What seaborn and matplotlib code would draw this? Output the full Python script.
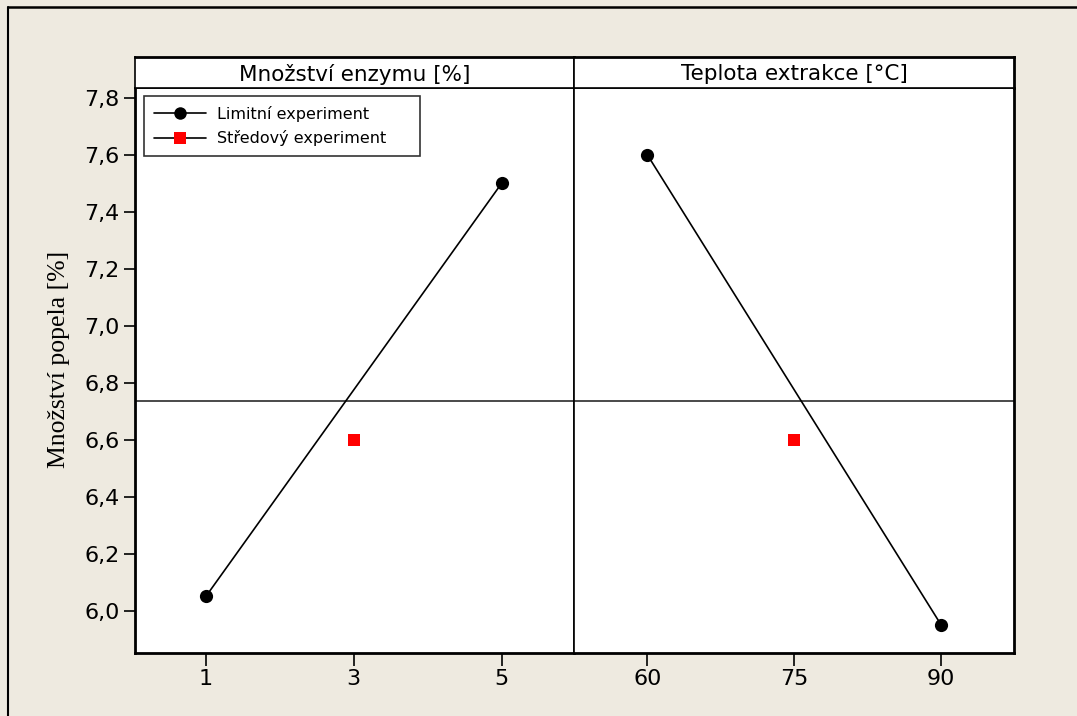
import matplotlib
matplotlib.use("Agg")
import matplotlib.pyplot as plt
import seaborn as sns
import pandas as pd
from matplotlib.lines import Line2D

# ---- data ----
panel_titles = ["Množství enzymu [%]", "Teplota extrakce [°C]"]
enzyme_levels = [1, 5]
enzyme_means = [6.05, 7.5]
enzyme_center_x = [3]
enzyme_center_y = [6.6]
temp_levels = [60, 90]
temp_means = [7.6, 5.95]
temp_center_x = [75]
temp_center_y = [6.6]
grand_mean = 6.735
y_ticks = [6.0, 6.2, 6.4, 6.6, 6.8, 7.0, 7.2, 7.4, 7.6, 7.8]
enzyme_ticks = [1, 3, 5]
temp_ticks = [60, 75, 90]
legend_labels = ["Limitní experiment", "Středový experiment"]
y_label = "Množství popela [%]"

sns.set_theme(style="white")
plt.rcParams['font.family'] = ['DejaVu Sans']
plt.rcParams['text.color'] = 'black'
plt.rcParams['axes.labelcolor'] = 'black'
plt.rcParams['xtick.color'] = 'black'
plt.rcParams['ytick.color'] = 'black'

BG = "#EEEAE0"
W, H = 1077, 716
fig = plt.figure(figsize=(W / 100, H / 100), dpi=100, facecolor=BG)

def rect(x0, y0, x1, y1):
    return [x0 / W, 1 - y1 / H, (x1 - x0) / W, (y1 - y0) / H]

# outer frame (top and left visible)
fig.add_artist(Line2D([7.5 / W, 7.5 / W], [0, 1 - 6.5 / H], color="black", lw=1.5, transform=fig.transFigure))
fig.add_artist(Line2D([7.5 / W, 1], [1 - 6.5 / H, 1 - 6.5 / H], color="black", lw=1.8, transform=fig.transFigure))

ax1 = fig.add_axes(rect(135, 88, 574, 653))
ax2 = fig.add_axes(rect(574, 88, 1014, 653))
h1 = fig.add_axes(rect(135, 57, 574, 88))
h2 = fig.add_axes(rect(574, 57, 1014, 88))

ylim = (5.851, 7.835)

panels = [
    (ax1, enzyme_levels, enzyme_means, enzyme_center_x, enzyme_center_y, enzyme_ticks, (0.04, 5.98)),
    (ax2, temp_levels, temp_means, temp_center_x, temp_center_y, temp_ticks, (52.5, 97.45)),
]

for ax, xs, ys, cx, cy, ticks, xlim in panels:
    ax.set_facecolor("white")
    ax.axhline(grand_mean, color="#4a4a4a", lw=1.4, zorder=1)
    df = pd.DataFrame({"x": xs, "y": ys})
    sns.lineplot(data=df, x="x", y="y", ax=ax, color="black", lw=1.2,
                 marker="o", markersize=9.5, markeredgewidth=0, zorder=3)
    dc = pd.DataFrame({"x": cx, "y": cy})
    sns.scatterplot(data=dc, x="x", y="y", ax=ax, color="#FF0000", marker="s",
                    s=85, linewidth=0, zorder=4)
    ax.set_xlim(*xlim)
    ax.set_ylim(*ylim)
    ax.set_xticks(ticks)
    ax.set_xticklabels([str(t) for t in ticks], fontsize=16)
    ax.set_xlabel("")
    ax.set_ylabel("")
    ax.tick_params(axis="x", direction="out", length=9, width=1.2, color="black", pad=2.5, bottom=True)
    for s in ax.spines.values():
        s.set_color("black")
        s.set_linewidth(1.2)
    ax.spines["bottom"].set_linewidth(2)

ax1.spines["left"].set_linewidth(2)
ax1.set_yticks(y_ticks)
ax1.set_yticklabels([f"{v:.1f}".replace(".", ",") for v in y_ticks], fontsize=16)
ax1.tick_params(axis="y", direction="out", length=8, width=1.2, color="black", pad=3, left=True)
ax2.set_yticks([])
ax2.spines["right"].set_linewidth(2)

ax1.set_ylabel(y_label, family="Liberation Serif", fontsize=18.5, color="black")
ax1.yaxis.set_label_coords(-0.148, 0.52)

for h, title in zip([h1, h2], panel_titles):
    h.set_facecolor("white")
    h.set_xticks([])
    h.set_yticks([])
    for s in h.spines.values():
        s.set_color("black")
        s.set_linewidth(1.2)
    h.spines["top"].set_linewidth(2)
    h.text(0.5, 0.45, title, ha="center", va="center", fontsize=15.5,
           color="black", transform=h.transAxes)
h2.spines["right"].set_linewidth(2)

handles = [
    Line2D([], [], color="black", lw=1.2, marker="o", markersize=9, markerfacecolor="black", markeredgewidth=0),
    Line2D([], [], color="black", lw=1.2, marker="s", markersize=9, markerfacecolor="#FF0000", markeredgewidth=0),
]
leg_x0 = (144 - 135) / 439
leg_w = 276 / 439
leg_top = (653 - 96) / 565
leg = ax1.legend(handles, legend_labels, loc="upper left",
                 bbox_to_anchor=(leg_x0, leg_top - 0.2, leg_w, 0.2), mode="expand",
                 frameon=True, fancybox=False, fontsize=11.5, handlelength=3.3,
                 borderaxespad=0.0, labelspacing=0.55, handletextpad=0.7, borderpad=0.6)
leg.get_frame().set_edgecolor("black")
leg.get_frame().set_linewidth(1.2)
for t in leg.get_texts():
    t.set_color("black")

fig.savefig("out.png", dpi=100, facecolor=BG)
